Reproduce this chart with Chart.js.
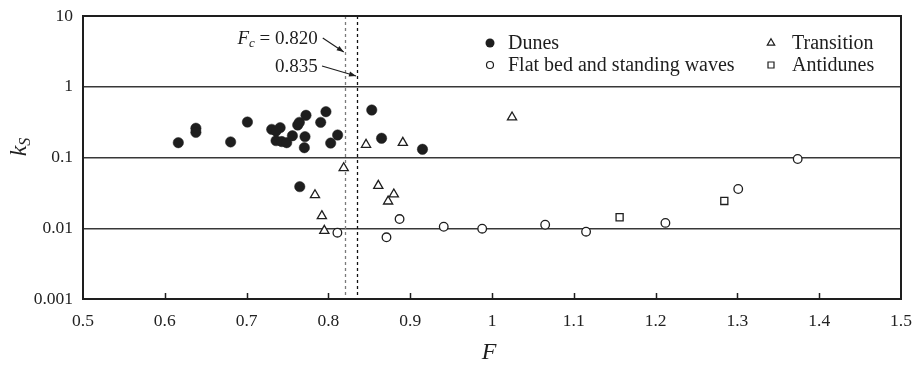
<!DOCTYPE html>
<html><head><meta charset="utf-8">
<script src="https://cdn.jsdelivr.net/npm/chart.js@4"></script>
<style>html,body{margin:0;padding:0;background:#fff}#wrap{width:912px;height:370px}</style>
</head><body><div id="wrap"><canvas id="c" width="912" height="370"></canvas></div>
<script>
// ---- data ----
const dunesF = [0.6165,0.638,0.638,0.6805,0.701,0.7307,0.741,0.736,0.736,0.743,0.749,0.756,0.7625,0.7645,0.7726,0.7714,0.7706,0.797,0.7906,0.8113,0.8028,0.853,0.865,0.915,0.765];
const dunesK = [0.162,0.259,0.227,0.166,0.317,0.25,0.264,0.237,0.173,0.168,0.162,0.203,0.288,0.314,0.395,0.197,0.1376,0.444,0.314,0.208,0.160,0.469,0.187,0.1306,0.0387];
const flatF = [0.811,0.871,0.887,0.941,0.988,1.065,1.115,1.212,1.301,1.3737];
const flatK = [0.00865,0.00745,0.0135,0.0105,0.00986,0.0112,0.00894,0.0119,0.0359,0.0952];
const transF = [0.8187,0.7836,0.792,0.795,0.846,0.891,0.861,0.880,0.873,1.0245];
const transK = [0.071,0.0295,0.0149,0.00923,0.152,0.162,0.040,0.0302,0.024,0.37];
const antiF = [1.156,1.284];
const antiK = [0.0143,0.0243];
const seriesNames = ['Dunes','Flat bed and standing waves','Transition','Antidunes'];
const xTickValues = [0.5,0.6,0.7,0.8,0.9,1.0,1.1,1.2,1.3,1.4,1.5];
const xTickLabels = ['0.5','0.6','0.7','0.8','0.9','1','1.1','1.2','1.3','1.4','1.5'];
const yTickValues = [0.001,0.01,0.1,1,10];
const yTickLabels = ['0.001','0.01','0.1','1','10'];
const criticalF = [0.820,0.835];
const criticalLabels = ['0.820','0.835'];
const xTitle = 'F';
const yTitleMain = 'k';
const yTitleSub = 'S';

const FONT = '"Liberation Serif", "Times New Roman", serif';
const INK = '#1e1e1e';
const toPts = (xs, ys) => xs.map((x, i) => ({x: x, y: ys[i]}));

function arrow(ctx, x1, y1, x2, y2) {
  ctx.beginPath(); ctx.moveTo(x1, y1); ctx.lineTo(x2, y2); ctx.stroke();
  const ang = Math.atan2(y2 - y1, x2 - x1), L = 7, W = 2.6;
  ctx.beginPath();
  ctx.moveTo(x2, y2);
  ctx.lineTo(x2 - L*Math.cos(ang) + W*Math.sin(ang), y2 - L*Math.sin(ang) - W*Math.cos(ang));
  ctx.lineTo(x2 - L*Math.cos(ang) - W*Math.sin(ang), y2 - L*Math.sin(ang) + W*Math.cos(ang));
  ctx.closePath(); ctx.fill();
}

function legendMarker(ctx, kind, x, y) {
  ctx.save();
  ctx.strokeStyle = INK; ctx.fillStyle = '#fff'; ctx.lineWidth = 1.2;
  if (kind === 0) { ctx.fillStyle = INK; ctx.beginPath(); ctx.arc(x, y, 4.5, 0, Math.PI*2); ctx.fill(); }
  else if (kind === 1) { ctx.beginPath(); ctx.arc(x, y, 3.5, 0, Math.PI*2); ctx.fill(); ctx.stroke(); }
  else if (kind === 2) { const r = 4.3; ctx.beginPath(); ctx.moveTo(x, y - r); ctx.lineTo(x + r*0.866, y + r*0.5); ctx.lineTo(x - r*0.866, y + r*0.5); ctx.closePath(); ctx.fill(); ctx.stroke(); }
  else { ctx.beginPath(); ctx.rect(x - 3, y - 3, 6, 6); ctx.fill(); ctx.stroke(); }
  ctx.restore();
}

const decor = {
  id: 'decor',
  beforeDatasetsDraw(chart) {
    const {ctx, chartArea: a, scales: {x}} = chart;
    ctx.save();
    criticalF.forEach((f, i) => {
      const px = Math.round(x.getPixelForValue(f)) + 0.5;
      ctx.strokeStyle = i === 0 ? '#7a7a7a' : '#111';
      ctx.lineWidth = 1.3; ctx.setLineDash([3, 3]);
      ctx.beginPath(); ctx.moveTo(px, a.top); ctx.lineTo(px, a.bottom); ctx.stroke();
    });
    ctx.restore();
  },
  afterDatasetsDraw(chart) {
    const {ctx, chartArea: a, scales: {x}} = chart;
    ctx.save();
    // frame
    ctx.strokeStyle = INK; ctx.lineWidth = 2; ctx.setLineDash([]);
    ctx.strokeRect(a.left, a.top, a.right - a.left, a.bottom - a.top);
    // inward ticks on bottom axis
    ctx.lineWidth = 1.5;
    xTickValues.slice(1, -1).forEach(v => {
      const px = Math.round(x.getPixelForValue(v)) + 0.5;
      ctx.beginPath(); ctx.moveTo(px, a.bottom); ctx.lineTo(px, a.bottom - 6); ctx.stroke();
    });
    // annotations
    const p1 = x.getPixelForValue(criticalF[0]), p2 = x.getPixelForValue(criticalF[1]);
    ctx.fillStyle = INK; ctx.textBaseline = 'middle';
    const rx = p1 - 27;
    const y1 = a.top + 23, y2 = a.top + 51;
    ctx.font = '19px ' + FONT; ctx.textAlign = 'right';
    const rest = ' = ' + criticalLabels[0];
    ctx.fillText(rest, rx, y1);
    const wr = ctx.measureText(rest).width;
    ctx.font = 'italic 13px ' + FONT; ctx.textAlign = 'right';
    ctx.fillText('c', rx - wr, y1 + 5);
    const wc = ctx.measureText('c').width;
    ctx.font = 'italic 19px ' + FONT;
    ctx.fillText('F', rx - wr - wc, y1);
    ctx.font = '19px ' + FONT;
    ctx.fillText(criticalLabels[1], rx, y2);
    ctx.strokeStyle = INK; ctx.lineWidth = 1.2;
    arrow(ctx, p1 - 22, a.top + 22, p1 - 1, a.top + 36);
    arrow(ctx, p2 - 35, a.top + 50, p2 - 1, a.top + 60);
    // legend
    ctx.font = '20px ' + FONT; ctx.textAlign = 'left'; ctx.textBaseline = 'middle';
    const cols = [490, 771], txt = [508, 792], rows = [a.top + 27, a.top + 49];
    const order = [[0, 0, 0], [1, 0, 1], [2, 1, 0], [3, 1, 1]];
    order.forEach(([k, c, r]) => {
      legendMarker(ctx, k, cols[c], rows[r]);
      ctx.fillStyle = INK;
      ctx.fillText(seriesNames[k], txt[c], rows[r] + 1);
    });
    // axis titles
    ctx.font = 'italic 24px ' + FONT; ctx.textAlign = 'center'; ctx.textBaseline = 'alphabetic';
    ctx.fillText(xTitle, (a.left + a.right) / 2 - 3, 359);
    ctx.save();
    ctx.translate(26, 147);
    ctx.rotate(-Math.PI / 2);
    ctx.font = 'italic 24px ' + FONT;
    const wk = ctx.measureText(yTitleMain).width;
    ctx.font = 'italic 16px ' + FONT;
    const ws = ctx.measureText(yTitleSub).width;
    const start = -(wk + ws) / 2;
    ctx.textAlign = 'left';
    ctx.font = 'italic 24px ' + FONT;
    ctx.fillText(yTitleMain, start, 0);
    ctx.font = 'italic 16px ' + FONT;
    ctx.fillText(yTitleSub, start + wk, 4);
    ctx.restore();
    ctx.restore();
  }
};

const tickFont = {family: FONT, size: 17.5};
new Chart(document.getElementById('c'), {
  type: 'scatter',
  data: {datasets: [
    {label: seriesNames[0], data: toPts(dunesF, dunesK), pointStyle: 'circle', pointRadius: 5.2, backgroundColor: INK, borderColor: INK, borderWidth: 0.5},
    {label: seriesNames[1], data: toPts(flatF, flatK), pointStyle: 'circle', pointRadius: 4.3, backgroundColor: '#fff', borderColor: INK, borderWidth: 1.3},
    {label: seriesNames[2], data: toPts(transF, transK), pointStyle: 'triangle', pointRadius: 5.3, backgroundColor: '#fff', borderColor: INK, borderWidth: 1.3},
    {label: seriesNames[3], data: toPts(antiF, antiK), pointStyle: 'rect', pointRadius: 5, backgroundColor: '#fff', borderColor: INK, borderWidth: 1.3}
  ]},
  options: {
    responsive: false, animation: false, devicePixelRatio: 1,
    layout: {padding: {left: 0, right: 11, top: 16, bottom: 0}},
    plugins: {legend: {display: false}, tooltip: {enabled: false}},
    scales: {
      x: {
        type: 'linear', min: 0.5, max: 1.5,
        afterBuildTicks(s) { s.ticks = xTickValues.map(v => ({value: v})); },
        afterFit(s) { s.height = 71; s.paddingLeft = 0; s.paddingRight = 0; },
        grid: {display: false, drawTicks: false},
        border: {display: false},
        ticks: {font: tickFont, color: '#222', padding: 12, maxRotation: 0, autoSkip: false,
          callback: (v) => xTickLabels[xTickValues.findIndex(t => Math.abs(t - v) < 1e-9)]}
      },
      y: {
        type: 'logarithmic', min: 0.001, max: 10,
        afterBuildTicks(s) { s.ticks = yTickValues.map(v => ({value: v})); },
        afterFit(s) { s.width = 83; s.paddingTop = 0; s.paddingBottom = 0; },
        grid: {drawTicks: false, lineWidth: 1.5,
          color: (c) => (c.tick && c.tick.value > 0.0011 && c.tick.value < 9) ? '#383838' : 'rgba(0,0,0,0)'},
        border: {display: false},
        ticks: {font: tickFont, color: '#222', padding: 10, autoSkip: false,
          callback: (v) => yTickLabels[yTickValues.findIndex(t => Math.abs(t - v) / t < 1e-6)]}
      }
    }
  },
  plugins: [decor]
});
</script>
</body></html>
